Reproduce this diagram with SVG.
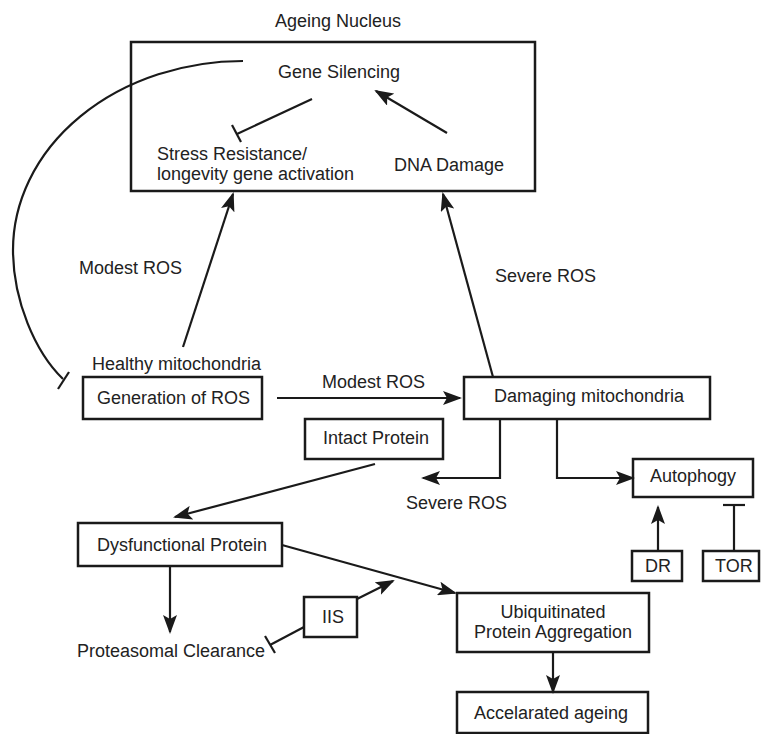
<svg xmlns="http://www.w3.org/2000/svg" width="761" height="734" viewBox="0 0 761 734">
<style>
text{font-family:"Liberation Sans",Arial,sans-serif;font-size:18px;fill:#222}
.box{fill:#fff;stroke:#1a1a1a;stroke-width:2.5}
.ln{fill:none;stroke:#1a1a1a;stroke-width:2.2}
.arr{fill:none;stroke:#1a1a1a;stroke-width:2.2;marker-end:url(#ah)}
</style>
<defs>
<marker id="ah" markerUnits="userSpaceOnUse" markerWidth="20" markerHeight="14" refX="17" refY="7" orient="auto" viewBox="0 0 20 14">
<path d="M0,0 L19,7 L0,14 L4,7 z" fill="#1a1a1a"/>
</marker>
</defs>
<rect width="761" height="734" fill="#fff"/>
<g id="nucleus">
<text x="275" y="27">Ageing Nucleus</text>
<rect class="box" x="131" y="42" width="404" height="149"/>
</g>
<g id="gene-silencing"><text x="278" y="78">Gene Silencing</text></g>
<g id="stress-resistance"><text x="157" y="160">Stress Resistance/</text><text x="157" y="180">longevity gene activation</text></g>
<g id="dna-damage"><text x="394" y="171">DNA Damage</text></g>
<g id="generation-ros">
<text x="92" y="370">Healthy mitochondria</text>
<rect class="box" x="83" y="377" width="179" height="42"/>
<text x="97" y="404">Generation of ROS</text>
</g>
<g id="damaging-mito">
<rect class="box" x="464" y="377" width="246" height="42"/>
<text x="494" y="402">Damaging mitochondria</text>
</g>
<g id="intact-protein">
<rect class="box" x="305" y="419" width="138" height="40"/>
<text x="323" y="444">Intact Protein</text>
</g>
<g id="autophogy">
<rect class="box" x="633" y="459" width="120" height="38"/>
<text x="650" y="482">Autophogy</text>
</g>
<g id="dr">
<rect class="box" x="632" y="551" width="50" height="30"/>
<text x="645" y="572">DR</text>
</g>
<g id="tor">
<rect class="box" x="703" y="551" width="56" height="30"/>
<text x="715" y="572">TOR</text>
</g>
<g id="dysfunctional">
<rect class="box" x="78" y="523" width="204" height="43"/>
<text x="97" y="551">Dysfunctional Protein</text>
</g>
<g id="proteasomal"><text x="77" y="657">Proteasomal Clearance</text></g>
<g id="iis">
<rect class="box" x="304" y="597" width="53" height="40"/>
<text x="322" y="623">IIS</text>
</g>
<g id="ubiquitinated">
<rect class="box" x="457" y="593" width="192" height="59"/>
<text x="553" y="618" text-anchor="middle">Ubiquitinated</text>
<text x="553" y="638" text-anchor="middle">Protein Aggregation</text>
</g>
<g id="accelerated">
<rect class="box" x="457" y="692" width="191" height="41"/>
<text x="474" y="719">Accelarated ageing</text>
</g>
<g id="connectors">
<path class="ln" d="M243,61 A230,189 0 0 0 13,250 C13,300 35,352 63,379"/>
<line class="ln" x1="58" y1="389" x2="69" y2="372"/>
<line class="ln" x1="312" y1="99" x2="237" y2="134"/>
<line class="ln" x1="232" y1="125" x2="241" y2="142"/>
<line class="arr" x1="447" y1="133" x2="376" y2="91"/>
<line class="arr" x1="183" y1="347" x2="233" y2="194"/>
<text x="79" y="274">Modest ROS</text>
<line class="arr" x1="493" y1="377" x2="443" y2="194"/>
<text x="495" y="282">Severe ROS</text>
<line class="arr" x1="277" y1="398" x2="460" y2="398"/>
<text x="322" y="388">Modest ROS</text>
<path class="arr" d="M500,419 V478 H423"/>
<text x="406" y="509">Severe ROS</text>
<path class="arr" d="M557,419 V478 H633"/>
<line class="arr" x1="658" y1="551" x2="658" y2="507"/>
<line class="ln" x1="734" y1="551" x2="734" y2="505"/>
<line class="ln" x1="723" y1="505" x2="745" y2="505"/>
<line class="arr" x1="375" y1="464" x2="175" y2="517"/>
<line class="arr" x1="170" y1="566" x2="170" y2="632"/>
<line class="ln" x1="304" y1="627" x2="270" y2="645"/>
<line class="ln" x1="265" y1="636" x2="275" y2="653"/>
<line class="arr" x1="357" y1="599" x2="393" y2="581"/>
<line class="arr" x1="282" y1="545" x2="455" y2="593"/>
<line class="arr" x1="553" y1="652" x2="553" y2="692"/>
</g>
</svg>
